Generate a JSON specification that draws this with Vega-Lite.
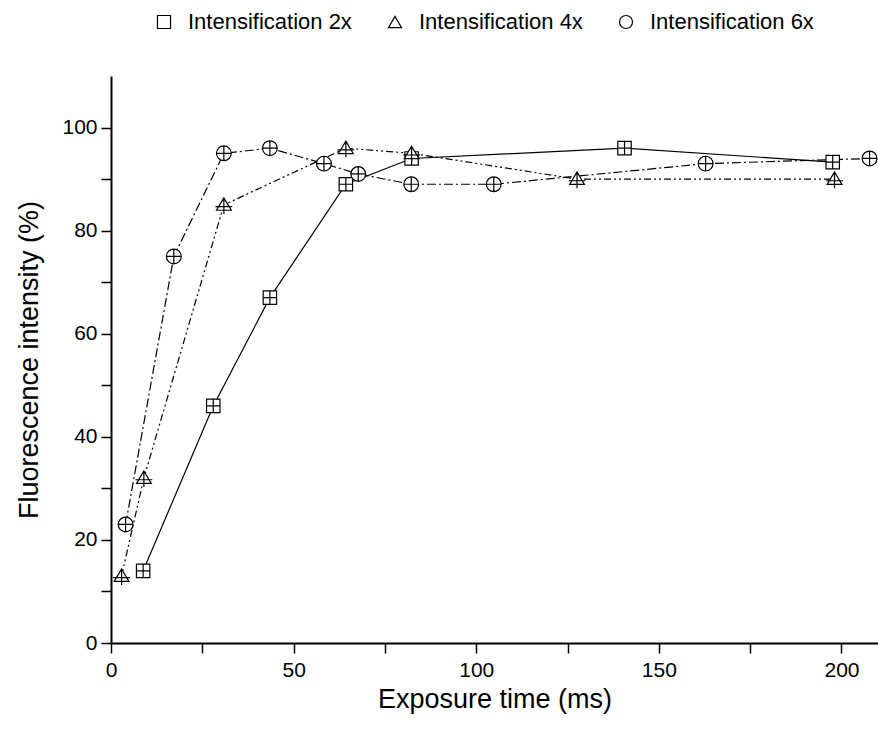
{
  "$schema": "https://vega.github.io/schema/vega-lite/v6.json",
  "autosize": "none",
  "width": 767,
  "height": 567,
  "padding": {"left": 111, "top": 76, "right": 0, "bottom": 86},
  "background": "white",
  "config": {
    "view": {"stroke": null},
    "font": "Liberation Sans",
    "axis": {
      "domainColor": "black", "domainWidth": 2, "tickColor": "black", "tickWidth": 1.5, "tickSize": 10,
      "labelFont": "Liberation Sans", "labelFontSize": 21, "labelColor": "black",
      "titleFont": "Liberation Sans", "titleFontSize": 27, "titleFontWeight": "normal", "titleColor": "black",
      "grid": false
    },
    "legend": {"labelFont": "Liberation Sans", "labelFontSize": 22, "labelColor": "black", "labelLimit": 400}
  },
  "resolve": {"scale": {"shape": "independent"}},
  "data": {"values": [
    {"series": "Intensification 2x", "x": 8.8, "y": 14},
    {"series": "Intensification 2x", "x": 28, "y": 46},
    {"series": "Intensification 2x", "x": 43.5, "y": 67},
    {"series": "Intensification 2x", "x": 64.3, "y": 89},
    {"series": "Intensification 2x", "x": 82.3, "y": 94},
    {"series": "Intensification 2x", "x": 140.6, "y": 96},
    {"series": "Intensification 2x", "x": 197.6, "y": 93.3},
    {"series": "Intensification 4x", "x": 2.9, "y": 13},
    {"series": "Intensification 4x", "x": 9, "y": 32},
    {"series": "Intensification 4x", "x": 30.9, "y": 85},
    {"series": "Intensification 4x", "x": 64.3, "y": 96},
    {"series": "Intensification 4x", "x": 82.3, "y": 95},
    {"series": "Intensification 4x", "x": 127.6, "y": 90},
    {"series": "Intensification 4x", "x": 198.1, "y": 90},
    {"series": "Intensification 6x", "x": 4, "y": 23},
    {"series": "Intensification 6x", "x": 17.2, "y": 75},
    {"series": "Intensification 6x", "x": 30.9, "y": 95},
    {"series": "Intensification 6x", "x": 43.5, "y": 96},
    {"series": "Intensification 6x", "x": 58.3, "y": 93},
    {"series": "Intensification 6x", "x": 67.7, "y": 91},
    {"series": "Intensification 6x", "x": 82.2, "y": 89},
    {"series": "Intensification 6x", "x": 104.8, "y": 89},
    {"series": "Intensification 6x", "x": 162.8, "y": 93},
    {"series": "Intensification 6x", "x": 207.7, "y": 94}
  ]},
  "encoding": {
    "x": {"field": "x", "type": "quantitative", "title": "Exposure time (ms)",
      "scale": {"domain": [0, 210], "nice": false, "zero": false},
      "axis": {"values": [0, 25, 50, 75, 100, 125, 150, 175, 200], "labelExpr": "datum.value % 50 == 0 ? datum.label : ''", "labelPadding": 6, "titlePadding": 6, "labelFlush": false}},
    "y": {"field": "y", "type": "quantitative", "title": "Fluorescence intensity (%)",
      "scale": {"domain": [0, 110], "nice": false},
      "axis": {"values": [0, 10, 20, 30, 40, 50, 60, 70, 80, 90, 100], "labelExpr": "datum.value % 20 == 0 ? datum.label : ''", "labelPadding": 4, "titlePadding": 18}}
  },
  "layer": [
    {
      "transform": [{"filter": "datum.series == 'Intensification 2x'"}],
      "mark": {"type": "line", "color": "black", "strokeWidth": 1.2},
      "encoding": {}
    },
    {
      "transform": [{"filter": "datum.series == 'Intensification 4x'"}],
      "mark": {"type": "line", "color": "black", "strokeWidth": 1.2, "strokeDash": [7, 3, 2, 3, 2, 3]},
      "encoding": {}
    },
    {
      "transform": [{"filter": "datum.series == 'Intensification 6x'"}],
      "mark": {"type": "line", "color": "black", "strokeWidth": 1.2, "strokeDash": [9, 3, 2, 3]},
      "encoding": {}
    },
    {
      "mark": {"type": "point", "filled": true, "fill": "white", "stroke": "black", "strokeWidth": 1.2, "opacity": 1, "size": 180},
      "encoding": {
        "shape": {"field": "series", "type": "nominal", "legend": null,
          "scale": {"domain": ["Intensification 2x", "Intensification 4x", "Intensification 6x"],
            "range": [
              "M-1,-1H1V1H-1Z M0,-1V1 M-1,0H1",
              "M0,-1.05L1.1,0.8H-1.1Z M0,-1.05V1.35 M-1.25,0.25H1.25",
              "M-1.1,0A1.1,1.1,0,1,1,1.1,0A1.1,1.1,0,1,1,-1.1,0Z M0,-1.1V1.1 M-1.1,0H1.1"
            ]}}
      }
    },
    {
      "mark": {"type": "point", "filled": false, "color": "black", "strokeWidth": 1.2, "opacity": 0, "size": 1},
      "encoding": {
        "shape": {"field": "series", "type": "nominal",
          "scale": {"domain": ["Intensification 2x", "Intensification 4x", "Intensification 6x"],
            "range": ["square", "triangle-up", "circle"]},
          "legend": {
            "title": null, "orient": "none", "direction": "horizontal", "legendX": 42, "legendY": -65,
            "symbolSize": 170, "symbolStrokeColor": "black", "symbolFillColor": "white", "symbolStrokeWidth": 1.2, "symbolOpacity": 1,
            "labelOffset": 13, "columnPadding": 32
          }}
      }
    }
  ]
}
